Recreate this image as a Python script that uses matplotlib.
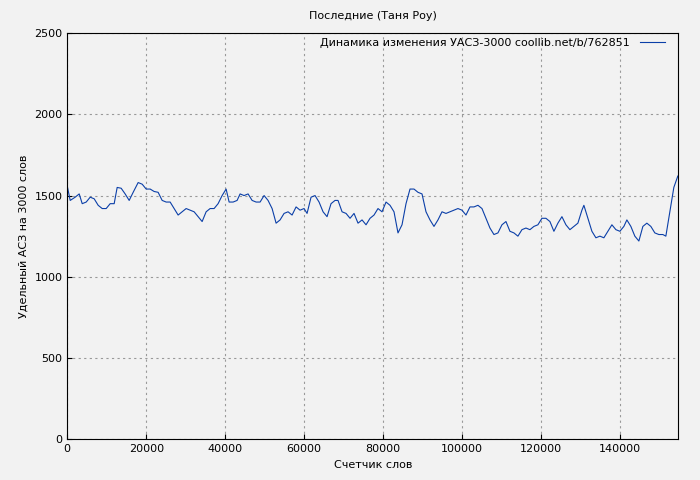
import matplotlib.pyplot as plt

words = [0, 760, 2020, 3040, 3800, 4810, 5820, 6830, 7840, 8860, 9870, 10880, 11890, 12650, 13660,
         14670, 15690, 16700, 17960, 18980, 19990, 21000, 22010, 23020, 24040, 25050, 26060, 27070,
         28080, 29100, 30110, 31120, 32130, 33140, 34160, 35170, 36180, 37190, 38200, 39220, 40230,
         40990, 42000, 43010, 43770, 44780, 45790, 46810, 47820, 48830, 49840, 50850, 51870, 52880,
         53890, 54900, 55910, 56930, 57940, 58950, 59960, 60720, 61730, 62740, 63760, 64770, 65780,
         66790, 67800, 68560, 69580, 70590, 71600, 72610, 73620, 74640, 75650, 76660, 77670, 78680,
         79700, 80710, 81720, 82730, 83740, 84760, 85770, 86780, 87790, 88800, 89820, 90830, 91840,
         92850, 93860, 94880, 95890, 96900, 97910, 98920, 99940, 100950, 101960, 102970, 103980,
         105000, 106010, 107020, 108030, 109040, 110060, 111070, 112080, 113090, 114100, 115120,
         116130, 117140, 118150, 119160, 120180, 121190, 122200, 123210, 124220, 125240, 126250,
         127260, 128270, 129280, 130300, 130800, 131810, 132830, 133840, 134850, 135860, 136870,
         137890, 138900, 139910, 140920, 141680, 142690, 143700, 144720, 145730, 146740, 147750,
         148760, 149780, 150790, 151550, 152560, 153570, 154580]
asz = [1560, 1470, 1490, 1510, 1450, 1460, 1490, 1480, 1440, 1420, 1420, 1450, 1450, 1550, 1545,
       1510, 1470, 1520, 1580, 1570, 1540, 1540, 1525, 1520, 1470, 1460, 1460, 1420, 1380, 1400,
       1420, 1410, 1400, 1370, 1340, 1400, 1420, 1420, 1450, 1500, 1540, 1460, 1460, 1470, 1510,
       1500, 1510, 1470, 1460, 1460, 1500, 1470, 1420, 1330, 1350, 1390, 1400, 1380, 1430, 1410,
       1420, 1390, 1490, 1500, 1460, 1400, 1370, 1450, 1470, 1470, 1400, 1390, 1360, 1390, 1330,
       1350, 1320, 1360, 1380, 1420, 1400, 1460, 1440, 1400, 1270, 1320, 1450, 1540, 1540, 1520,
       1510, 1400, 1350, 1310, 1350, 1400, 1390, 1400, 1410, 1420, 1410, 1380, 1430, 1430, 1440,
       1420, 1360, 1300, 1260, 1270, 1320, 1340, 1280, 1270, 1250, 1290, 1300, 1290, 1310, 1320,
       1360, 1360, 1340, 1280, 1330, 1370, 1320, 1290, 1310, 1330, 1410, 1440, 1360, 1280, 1240,
       1250, 1240, 1280, 1320, 1290, 1280, 1310, 1350, 1310, 1250, 1220, 1310, 1330, 1310, 1270,
       1260, 1260, 1250, 1400, 1550, 1620]

bg = "#f2f2f2"
fig = plt.figure(figsize=(7, 4.8), dpi=100, facecolor=bg)
ax = fig.add_axes([0.096, 0.085, 0.873, 0.846], facecolor=bg)
ax.plot(words, asz, color="#0b3fa8", lw=0.8,
        label="Динамика изменения УАСЗ-3000 coollib.net/b/762851")
ax.set_xlim(0, 154700)
ax.set_ylim(0, 2500)
ax.set_xticks(range(0, 154700, 20000))
ax.set_yticks(range(0, 2501, 500))
ax.grid(True, color="#999999", ls=(0, (2, 3)), lw=0.8)
ax.tick_params(labelsize=8, direction="in")
ax.set_xlabel("Счетчик слов", fontsize=8, labelpad=4)
ax.set_ylabel("Удельный АСЗ на 3000 слов", fontsize=8)
ax.set_title("Последние (Таня Роу)", fontsize=8, pad=10)
ax.legend(loc="upper right", frameon=False, fontsize=8, markerfirst=False,
          handlelength=2.2, borderaxespad=0.1, borderpad=0.3, handletextpad=0.9,
          bbox_to_anchor=(0.985, 1.0))
fig.savefig("out.png", facecolor=bg)
